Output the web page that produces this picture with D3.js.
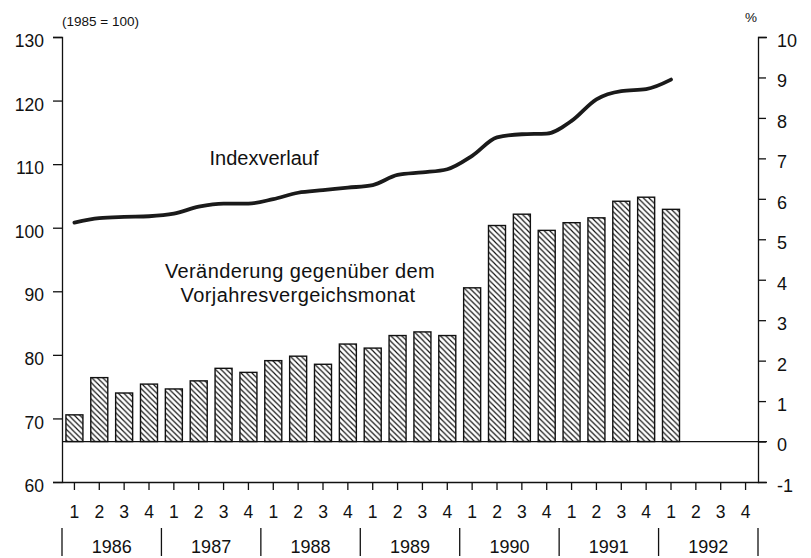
<!DOCTYPE html>
<html>
<head>
<meta charset="utf-8">
<script src="https://cdn.jsdelivr.net/npm/d3@7"></script>
<style>
  html, body { margin: 0; padding: 0; background: #fff; }
  svg { display: block; }
  text { font-family: "Liberation Sans", Arial, Helvetica, sans-serif; fill: #111; }
</style>
</head>
<body>
<svg id="chart" width="811" height="558"></svg>
<script>
// ---- data ----
const years = ["1986", "1987", "1988", "1989", "1990", "1991", "1992"];
const quarterLabels = ["1", "2", "3", "4"];
// year-on-year change (%) by quarter, 1986 Q1 .. 1992 Q1 (right axis)
const changeValues = [0.66, 1.58, 1.20, 1.42, 1.30, 1.50, 1.81, 1.71, 2.00, 2.11, 1.91, 2.41,
                      2.31, 2.62, 2.71, 2.62, 3.80, 5.34, 5.62, 5.22, 5.41, 5.53, 5.94, 6.04, 5.74];
// index (1985 = 100) by quarter, 1986 Q1 .. 1992 Q1 (left axis)
const indexValues = [100.8, 101.5, 101.7, 101.8, 102.2, 103.3, 103.8, 103.8, 104.5, 105.5, 105.9, 106.3,
                     106.7, 108.3, 108.7, 109.2, 111.3, 114.2, 114.7, 114.8, 116.8, 120.2, 121.5, 121.8, 123.3];
const leftTicks = [60, 70, 80, 90, 100, 110, 120, 130];
const rightTicks = [-1, 0, 1, 2, 3, 4, 5, 6, 7, 8, 9, 10];

// ---- layout ----
const svg = d3.select("#chart");
const L = 62, R = 758, T = 37, B = 482;
const font = "'Liberation Sans', Arial, Helvetica, sans-serif";

const keys = [];
years.forEach(y => quarterLabels.forEach(q => keys.push(y + "-" + q)));

const x = d3.scaleBand().domain(keys).range([L, R]).paddingInner(0.316).paddingOuter(0.158);
const yL = d3.scaleLinear().domain([60, 130]).range([B, T]);
const yR = d3.scaleLinear().domain([-1, 10]).range([B, T]);

// hatch pattern
const defs = svg.append("defs");
const pat = defs.append("pattern").attr("id", "hatch")
  .attr("patternUnits", "userSpaceOnUse").attr("width", 5.5).attr("height", 5.5);
pat.append("path")
  .attr("d", "M-1,-1 L6.5,6.5 M-1,4.5 L1,6.5 M4.5,-1 L6.5,1")
  .attr("stroke", "#111").attr("stroke-width", 1.15).attr("fill", "none");

// bars
const barData = changeValues.map((v, i) => ({ key: keys[i], v }));
svg.append("g").selectAll("rect").data(barData).join("rect")
  .attr("x", d => x(d.key))
  .attr("width", x.bandwidth())
  .attr("y", d => yR(d.v))
  .attr("height", d => yR(0) - yR(d.v))
  .attr("fill", "url(#hatch)")
  .attr("stroke", "#111").attr("stroke-width", 1.4);

// zero line
svg.append("line")
  .attr("x1", L).attr("x2", R + 9)
  .attr("y1", yR(0)).attr("y2", yR(0))
  .attr("stroke", "#111").attr("stroke-width", 1.3);

// index line
const line = d3.line()
  .x((d, i) => x(keys[i]) + x.bandwidth() / 2)
  .y(d => yL(d))
  .curve(d3.curveMonotoneX);
svg.append("path").datum(indexValues)
  .attr("d", line)
  .attr("fill", "none").attr("stroke", "#1a1a1a")
  .attr("stroke-width", 3.8).attr("stroke-linecap", "round").attr("stroke-linejoin", "round");

// left axis
const gL = svg.append("g").attr("transform", `translate(${L},0)`)
  .call(d3.axisLeft(yL).tickValues(leftTicks).tickSize(9).tickSizeOuter(9).tickPadding(9));
gL.selectAll("text").attr("font-size", 17.5).attr("font-family", font).attr("dy", "0.55em");

// right axis
const gR = svg.append("g").attr("transform", `translate(${R},0)`)
  .call(d3.axisRight(yR).tickValues(rightTicks).tickSize(8).tickSizeOuter(9).tickPadding(11)
        .tickFormat(d => d < 0 ? "-" + Math.abs(d) : d));
gR.selectAll("text").attr("font-size", 18).attr("font-family", font).attr("dy", "0.52em");

// bottom axis
const gB = svg.append("g").attr("transform", `translate(0,${B})`)
  .call(d3.axisBottom(x).tickSize(8).tickSizeOuter(0).tickPadding(22)
        .tickFormat(k => k.split("-")[1]));
gB.selectAll("text").attr("font-size", 17.5).attr("font-family", font).attr("dy", "0.35em");

[gL, gR, gB].forEach(g => {
  g.selectAll("path, line").attr("stroke", "#111").attr("stroke-width", 1.3);
  g.selectAll("text").attr("fill", "#111");
});

// year separators and labels
const step = x.step();
const cellStart = k => x(k) + x.bandwidth() / 2 - step / 2;
const sepX = years.map(y => cellStart(y + "-1")).concat([R]);
svg.append("g").selectAll("line").data(sepX).join("line")
  .attr("x1", d => d).attr("x2", d => d)
  .attr("y1", 528).attr("y2", 556)
  .attr("stroke", "#111").attr("stroke-width", 1.3);
svg.append("g").selectAll("text").data(years).join("text")
  .attr("x", y => cellStart(y + "-1") + 2 * step)
  .attr("y", 553)
  .attr("text-anchor", "middle")
  .attr("font-size", 18)
  .text(y => y);

// annotations
svg.append("text").attr("x", 62).attr("y", 26).attr("font-size", 13.5).text("(1985 = 100)");
svg.append("text").attr("x", 751).attr("y", 22).attr("text-anchor", "middle").attr("font-size", 13.5).text("%");
svg.append("text").attr("x", 264).attr("y", 165).attr("text-anchor", "middle").attr("font-size", 20).text("Indexverlauf");
svg.append("text").attr("x", 300).attr("y", 278).attr("text-anchor", "middle").attr("font-size", 20).attr("letter-spacing", 0.4).text("Veränderung gegenüber dem");
svg.append("text").attr("x", 298).attr("y", 302).attr("text-anchor", "middle").attr("font-size", 20).attr("letter-spacing", 0.4).text("Vorjahresvergeichsmonat");
</script>
</body>
</html>
